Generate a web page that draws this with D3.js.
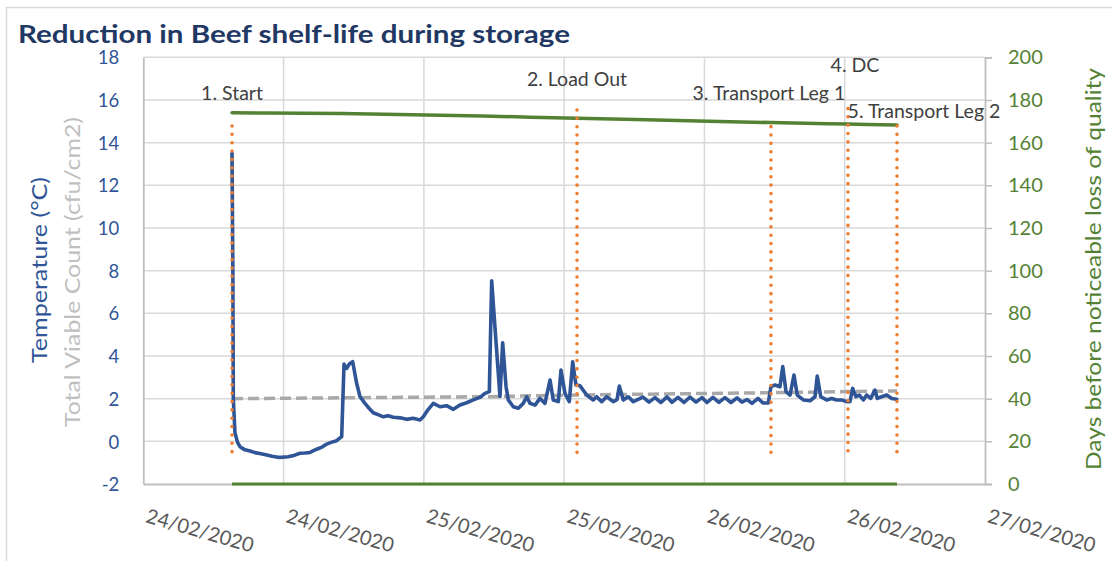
<!DOCTYPE html>
<html><head><meta charset="utf-8">
<script src="https://cdn.jsdelivr.net/npm/d3@7"></script>
<style>
body{margin:0;background:#fff}
svg{display:block}
text{font-family:Lato,"Open Sans","DejaVu Sans",sans-serif}
</style>
</head><body>
<svg id="chart" width="1112" height="561"></svg>
<script>
// ---------- DATA ----------
const chartTitle = "Reduction in Beef shelf-life during storage";
const leftTitle1 = "Temperature (°C)";
const leftTitle2 = "Total Viable Count (cfu/cm2)";
const rightTitle = "Days before noticeable loss of quality";

const xStartDate = new Date(2020, 1, 24, 0, 0);   // 24/02/2020 00:00
const xTickHours = [0, 12, 24, 36, 48, 60, 72];
const leftTicks = [-2, 0, 2, 4, 6, 8, 10, 12, 14, 16, 18];
const rightTicks = [0, 20, 40, 60, 80, 100, 120, 140, 160, 180, 200];

// Temperature (°C), hours since 24/02/2020 00:00
const tempHours = [7.59,7.66,7.70,7.84,8.06,8.27,8.70,9.13,9.55,10.07,10.56,11.01,11.52,11.95,12.38,12.89,13.40,13.83,14.26,14.83,15.29,15.69,16.06,16.54,16.97,17.17,17.40,17.62,17.91,18.25,18.54,18.96,19.31,19.67,20.08,20.53,20.93,21.39,21.96,22.53,23.07,23.67,23.95,24.38,24.81,25.38,25.95,26.52,27.09,27.66,28.23,28.80,29.23,29.60,29.80,30.08,30.51,30.74,31.03,31.22,31.65,32.08,32.50,32.80,33.08,33.51,33.93,34.36,34.79,35.07,35.50,35.73,36.07,36.44,36.73,37.01,37.36,37.93,38.49,38.78,39.21,39.64,40.20,40.52,40.72,41.06,41.49,41.91,
42.74,43.26,43.77,44.28,44.80,45.22,45.74,46.25,46.76,47.28,47.79,48.22,48.73,49.24,49.76,50.27,50.79,51.21,51.64,52.07,52.58,53.01,53.46,
53.69,54.04,54.46,54.70,54.98,55.32,55.66,55.94,56.46,57.03,57.46,57.65,57.95,58.46,58.89,59.31,59.74,60.17,60.45,60.68,60.96,61.25,61.59,61.88,62.22,62.59,62.79,63.16,63.59,64.02,64.45];
const tempValues = [13.5,8.0,2.0,0.4,-0.05,-0.25,-0.4,-0.45,-0.53,-0.58,-0.64,-0.7,-0.75,-0.74,-0.72,-0.66,-0.56,-0.55,-0.52,-0.37,-0.27,-0.13,-0.05,0.03,0.22,3.62,3.42,3.62,3.73,2.72,2.09,1.78,1.55,1.34,1.25,1.15,1.2,1.13,1.1,1.03,1.08,1.0,1.15,1.5,1.78,1.62,1.67,1.5,1.7,1.81,1.94,2.06,2.25,2.33,7.53,5.37,2.1,4.62,2.56,1.94,1.62,1.55,1.78,2.09,1.78,1.70,2.01,1.78,2.87,1.94,1.86,3.34,2.25,1.86,3.73,2.64,2.6,2.17,1.94,2.09,1.86,2.09,1.86,1.95,2.59,1.94,2.09,1.86,
2.07,1.84,2.05,1.82,2.08,1.83,2.06,1.82,2.07,1.84,2.05,1.82,2.06,1.83,2.05,1.82,2.04,1.84,1.96,1.78,2.01,1.8,1.8,
2.56,2.64,2.56,3.5,2.33,2.17,3.11,2.17,1.94,1.9,2.09,3.06,2.09,1.94,2.01,1.94,1.94,1.86,1.86,2.48,2.09,2.17,1.94,2.17,2.01,2.4,2.01,2.09,2.17,2.01,1.97];

// Total viable count (left axis)
const tvcHours = [7.59, 29.0, 37.10, 53.69, 60.28, 64.47];
const tvcValues = [2.0, 2.09, 2.17, 2.28, 2.33, 2.36];

// Days before noticeable loss of quality (right axis)
const daysHours = [7.59, 17.0, 29.0, 37.10, 47.5, 53.69, 60.28, 64.47];
const daysValues = [174.0, 173.6, 172.5, 171.4, 170.2, 169.4, 168.7, 168.3];
const daysBaseHours = [7.59, 64.47];
const daysBaseValues = [0, 0];

// Supply-chain events
const eventNames = ["1. Start", "2. Load Out", "3. Transport Leg 1", "4. DC", "5. Transport Leg 2"];
const eventHours = [7.59, 37.10, 53.69, 60.28, 64.47];
const eventTop = [14.78, 15.53, 14.75, 15.6, 14.78];
const eventBottom = [-0.78, -0.78, -0.78, -0.78, -0.78];

// ---------- LAYOUT ----------
const plot = {left: 143.3, right: 985, top: 57.3, bottom: 484};
const labelDx = [0, 0, -2, 7, 27];
const labelDy = [-26, -24, -27, -37, -8];

const svg = d3.select("#chart");
const hoursToDate = h => new Date(xStartDate.getTime() + h * 3600e3);
const plainNum = d => String(d);

const x = d3.scaleTime()
  .domain([hoursToDate(0), hoursToDate(72)])
  .range([plot.left, plot.right]);
const yL = d3.scaleLinear().domain([-2, 18]).range([plot.bottom, plot.top]);
const yR = d3.scaleLinear().domain([0, 200]).range([plot.bottom, plot.top]);

// chart border
svg.append("rect").attr("x", 6.5).attr("y", 7.5).attr("width", 1200).attr("height", 600)
  .attr("fill", "#fff").attr("stroke", "#d9d9d9").attr("stroke-width", 1.5);

// title
svg.append("text").attr("x", 18).attr("y", 42.5)
  .attr("font-size", 25.5).attr("font-weight", 700).attr("fill", "#1f3864")
  .attr("textLength", 552).attr("lengthAdjust", "spacingAndGlyphs")
  .text(chartTitle);

// gridlines
const grid = svg.append("g");
grid.selectAll("line.h").data(leftTicks.filter(d => d > -2)).join("line")
  .attr("x1", plot.left).attr("x2", plot.right)
  .attr("y1", d => yL(d)).attr("y2", d => yL(d))
  .attr("stroke", "#d9d9d9").attr("stroke-width", 1.5);
grid.selectAll("line.v").data(xTickHours.slice(1, -1)).join("line")
  .attr("x1", d => x(hoursToDate(d))).attr("x2", d => x(hoursToDate(d)))
  .attr("y1", plot.top).attr("y2", plot.bottom)
  .attr("stroke", "#d9d9d9").attr("stroke-width", 1.5);

// axes
const axL = svg.append("g").attr("transform", `translate(${plot.left},0)`)
  .call(d3.axisLeft(yL).tickValues(leftTicks).tickSize(0).tickPadding(24).tickFormat(plainNum));
axL.select(".domain").attr("stroke", "#bfbfbf").attr("stroke-width", 1.8);
axL.selectAll("text").attr("font-size", 18.5).attr("fill", "#2f5597").attr("font-family", "Lato")
  .attr("dy", "0.36em");

const axR = svg.append("g").attr("transform", `translate(${plot.right},0)`)
  .call(d3.axisRight(yR).tickValues(rightTicks).tickSize(7).tickPadding(16).tickFormat(plainNum));
axR.select(".domain").attr("stroke", "#bfbfbf").attr("stroke-width", 1.8);
axR.selectAll("line").attr("stroke", "#bfbfbf").attr("stroke-width", 1.5);
axR.selectAll("text").attr("font-size", 20).attr("fill", "#548235").attr("font-family", "Lato");

const axB = svg.append("g").attr("transform", `translate(0,${plot.bottom})`)
  .call(d3.axisBottom(x).tickValues(xTickHours.map(hoursToDate)).tickSize(0)
    .tickFormat(d3.timeFormat("%d/%m/%Y")));
axB.select(".domain").attr("stroke", "#bfbfbf").attr("stroke-width", 1.8);
axB.selectAll("text").attr("font-size", 20).attr("fill", "#595959").attr("font-family", "Lato")
  .attr("text-anchor", "start").attr("x", 1).attr("y", 38).attr("dy", 0)
  .attr("transform", "rotate(16,1,38)");

// axis titles
svg.append("text").attr("transform", "translate(47,270) rotate(-90)")
  .attr("text-anchor", "middle").attr("font-size", 21).attr("fill", "#2f5597")
  .attr("textLength", 186).attr("lengthAdjust", "spacingAndGlyphs").text(leftTitle1);
svg.append("text").attr("transform", "translate(80,272) rotate(-90)")
  .attr("text-anchor", "middle").attr("font-size", 21).attr("fill", "#bfbfbf")
  .attr("textLength", 310).attr("lengthAdjust", "spacingAndGlyphs").text(leftTitle2);
svg.append("text").attr("transform", "translate(1101,269) rotate(-90)")
  .attr("text-anchor", "middle").attr("font-size", 21).attr("fill", "#548235")
  .attr("textLength", 402).attr("lengthAdjust", "spacingAndGlyphs").text(rightTitle);

// series
const lineL = d3.line().x(d => x(hoursToDate(d[0]))).y(d => yL(d[1]));
const lineR = d3.line().x(d => x(hoursToDate(d[0]))).y(d => yR(d[1]));

svg.append("path").datum(tvcHours.map((h, i) => [h, tvcValues[i]]))
  .attr("d", lineL).attr("fill", "none").attr("stroke", "#a9a9a9")
  .attr("stroke-width", 3.5).attr("stroke-dasharray", "11 5");

svg.append("path").datum(daysBaseHours.map((h, i) => [h, daysBaseValues[i]]))
  .attr("d", lineR).attr("fill", "none").attr("stroke", "#548235").attr("stroke-width", 3);
svg.append("path").datum(daysHours.map((h, i) => [h, daysValues[i]]))
  .attr("d", d3.line().curve(d3.curveMonotoneX).x(d => x(hoursToDate(d[0]))).y(d => yR(d[1])))
  .attr("fill", "none").attr("stroke", "#548235").attr("stroke-width", 3.5).attr("stroke-linecap", "round");

svg.append("path").datum(tempHours.map((h, i) => [h, tempValues[i]]))
  .attr("d", lineL).attr("fill", "none").attr("stroke", "#2f5597")
  .attr("stroke-width", 3.6).attr("stroke-linejoin", "round").attr("stroke-linecap", "round");

// events
const ev = eventNames.map((n, i) => ({n, h: eventHours[i], t: eventTop[i], b: eventBottom[i], i}));
svg.append("g").selectAll("line").data(ev).join("line")
  .attr("x1", d => x(hoursToDate(d.h))).attr("x2", d => x(hoursToDate(d.h)))
  .attr("y1", d => yL(d.t)).attr("y2", d => yL(d.b))
  .attr("stroke", "#ed7d31").attr("stroke-width", 3.6)
  .attr("stroke-linecap", "round").attr("stroke-dasharray", "0 8.35");
svg.append("g").selectAll("text").data(ev).join("text")
  .attr("x", d => x(hoursToDate(d.h)) + labelDx[d.i])
  .attr("y", d => yL(d.t) + labelDy[d.i])
  .attr("text-anchor", "middle").attr("font-size", 19.5).attr("fill", "#404040")
  .text(d => d.n);
</script>
</body></html>
